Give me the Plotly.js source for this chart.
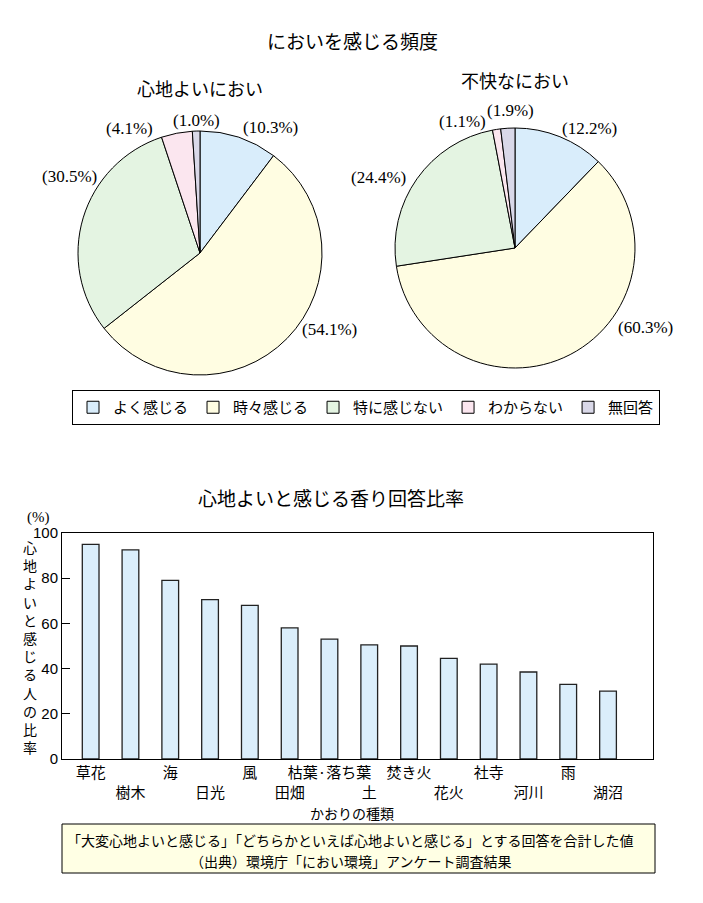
<!DOCTYPE html>
<html><head><meta charset="utf-8">
<script src="https://cdn.plot.ly/plotly-3.0.1.min.js"></script>
<style>body{margin:0;background:#fff}</style></head>
<body><div id="chart" style="width:703px;height:903px"></div>
<script>
const freqLabels = ['よく感じる','時々感じる','特に感じない','わからない','無回答'];
const freqColors = ['#d9edfb','#fffde2','#e4f4e2','#fbe6ef','#d9d8e8'];
const pleasantValues = [10.3,54.1,30.5,4.1,1.0];
const unpleasantValues = [12.2,60.3,24.4,1.1,1.9];
const scentCategories = ['草花','樹木','海','日光','風','田畑','枯葉·落ち葉','土','焚き火','花火','社寺','河川','雨','湖沼'];
const scentValues = [95,92.5,79,70.5,68,58,53,50.5,50,44.5,42,38.5,33,30];
const yTicks = [0,20,40,60,80,100];
const yAxisTitle = '心地よいと感じる人の比率';
const footLines = ['「大変心地よいと感じる」「どちらかといえば心地よいと感じる」とする回答を合計した値','（出典）環境庁「におい環境」アンケート調査結果'];

const W=703,H=903;
const px=x=>x/W, py=y=>1-y/H;
const JP='"Noto Sans CJK JP", "Noto Sans", sans-serif';
const SERIF='"Liberation Serif", "DejaVu Serif", serif';

// layout of the two pies (pixel centre / radius) and label placement nudges (angle deg, distance px)
const pies=[
  {vals:pleasantValues, cx:200, cy:253, r:122, nudge:[[10.6,144],[-13.8,150],[13.6,151],[-18.4,143],[0.5,133]]},
  {vals:unpleasantValues, cx:515, cy:248, r:120, nudge:[[10,141],[-31.4,153],[-7.8,154],[-13.6,137],[1.5,138]]}
];

const data=[];
const ann=[];
pies.forEach(p=>{
  data.push({type:'pie', labels:freqLabels, values:p.vals, sort:false, direction:'clockwise', rotation:0,
    domain:{x:[px(p.cx-p.r),px(p.cx+p.r)], y:[py(p.cy+p.r),py(p.cy-p.r)]},
    marker:{colors:freqColors, line:{color:'#000', width:1}},
    textinfo:'none', hoverinfo:'none', showlegend:true});
  const tot=p.vals.reduce((a,b)=>a+b,0);
  let cum=0;
  p.vals.forEach((v,i)=>{
    const mid=(cum+v/2)/tot*360; cum+=v;
    const th=(mid+p.nudge[i][0])*Math.PI/180, d=p.nudge[i][1];
    ann.push({xref:'paper',yref:'paper',x:px(p.cx+d*Math.sin(th)),y:py(p.cy-d*Math.cos(th)),
      text:'('+v.toFixed(1)+'%)',showarrow:false,xanchor:'center',yanchor:'middle',
      font:{family:SERIF,size:17,color:'#000'}});
  });
});

data.push({type:'bar', x:scentCategories.map((c,i)=>i), y:scentValues, width:0.42, xaxis:'x', yaxis:'y',
   marker:{color:'#dbeefb', line:{color:'#222', width:1.3}}, showlegend:false, hoverinfo:'none'});

[
  {text:'においを感じる頻度', x:px(352), y:py(40), size:19},
  {text:'心地よいにおい', x:px(200), y:py(88), size:18},
  {text:'不快なにおい', x:px(515), y:py(80), size:18},
  {text:'心地よいと感じる香り回答比率', x:px(331), y:py(497), size:19},
  {text:'(%)', x:px(38), y:py(517), size:15, family:SERIF},
  {text:yAxisTitle.split('').join('<br>'), x:px(30), y:py(647), size:14},
  {text:'かおりの種類', x:px(352), y:py(813), size:14},
  {text:footLines[0], x:px(350), y:py(840), size:14},
  {text:footLines[1], x:px(350), y:py(861), size:14}
].forEach(a=>ann.push({xref:'paper', yref:'paper', x:a.x, y:a.y, text:a.text, showarrow:false,
  xanchor:'center', yanchor:'middle', font:{family:a.family||JP, size:a.size, color:'#000'}}));

const layout={
  width:W, height:H, margin:{l:0,r:0,t:0,b:0}, paper_bgcolor:'#fff', plot_bgcolor:'#fff',
  showlegend:true,
  legend:{orientation:'h', x:px(72), y:py(390), xanchor:'left', yanchor:'top',
    bordercolor:'#000', borderwidth:1, font:{family:JP, size:15, color:'#000'},
    bgcolor:'#fff', itemclick:false, itemdoubleclick:false, traceorder:'normal'},
  xaxis:{domain:[px(62),px(653)], range:[-0.72,14.13], tickvals:scentCategories.map((c,i)=>i),
    ticktext:scentCategories.map((c,i)=>i%2? '<br>'+c : c), tickangle:0, ticks:'', showline:true, mirror:true,
    linecolor:'#000', linewidth:1, showgrid:false, zeroline:false, fixedrange:true,
    tickfont:{family:JP, size:15, color:'#000'}},
  yaxis:{domain:[py(759),py(533)], range:[0,100], tickvals:yTicks, ticks:'inside', ticklen:8,
    tickcolor:'#000', showline:true, mirror:true, linecolor:'#000', linewidth:1, showgrid:false,
    zeroline:false, fixedrange:true, tickfont:{family:'"Liberation Sans", Arial, sans-serif', size:15, color:'#000'}},
  annotations:ann,
  shapes:[{type:'rect', xref:'paper', yref:'paper', x0:px(62), x1:px(655), y0:py(873), y1:py(824),
    fillcolor:'#ffffe4', line:{color:'#000', width:1}, layer:'below'}]
};
Plotly.newPlot('chart', data, layout, {staticPlot:true, displayModeBar:false});
</script></body></html>
